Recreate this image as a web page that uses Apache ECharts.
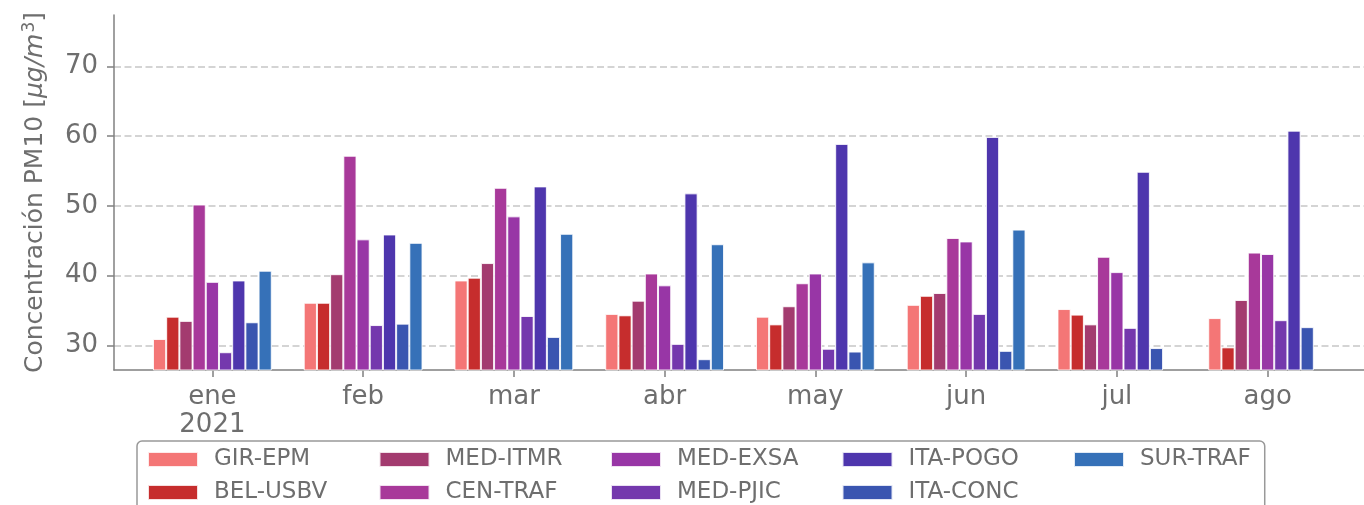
<!DOCTYPE html>
<html>
<head>
<meta charset="utf-8">
<script src="https://cdn.jsdelivr.net/npm/echarts@6/dist/echarts.min.js"></script>
<style>
  html, body { margin: 0; padding: 0; background: #fff; }
  #chart { width: 1364px; height: 505px; }
</style>
</head>
<body>
<div id="chart"></div>
<script>
const months = ["ene\n2021", "feb", "mar", "abr", "may", "jun", "jul", "ago"];
const yTicks = [30, 40, 50, 60, 70];

// one array per station, month order ene..ago (null = no data)
const girEpm  = [30.9, 36.1, 39.3, 34.5, 34.1, 35.8, 35.2, 33.9];
const belUsbv = [34.1, 36.1, 39.7, 34.3, 33.0, 37.1, 34.4, 29.7];
const medItmr = [33.5, 40.2, 41.8, 36.4, 35.6, 37.5, 33.0, 36.5];
const cenTraf = [50.2, 57.2, 52.6, 40.3, 38.9, 45.4, 42.7, 43.3];
const medExsa = [39.1, 45.2, 48.5, 38.6, 40.3, 44.9, 40.5, 43.1];
const medPjic = [29.0, 32.9, 34.2, 30.2, 29.5, 34.5, 32.5, 33.6];
const itaPogo = [39.3, 45.9, 52.8, 51.8, 58.9, 59.9, 54.9, 60.8];
const itaConc = [33.3, 33.1, 31.2, 28.0, 29.1, 29.2, 29.6, 32.6];
const surTraf = [40.7, 44.7, 46.0, 44.5, 41.9, 46.6, null, null];

const stations = [
  { name: "GIR-EPM",  data: girEpm,  color: "#f47676" },
  { name: "BEL-USBV", data: belUsbv, color: "#c62d2d" },
  { name: "MED-ITMR", data: medItmr, color: "#a33b6f" },
  { name: "CEN-TRAF", data: cenTraf, color: "#a8399a" },
  { name: "MED-EXSA", data: medExsa, color: "#9836a6" },
  { name: "MED-PJIC", data: medPjic, color: "#7438ad" },
  { name: "ITA-POGO", data: itaPogo, color: "#4e36ad" },
  { name: "ITA-CONC", data: itaConc, color: "#3a55b0" },
  { name: "SUR-TRAF", data: surTraf, color: "#3671b8" }
];

// matplotlib fills the legend column by column, echarts row by row
const legendOrder = ["GIR-EPM", "MED-ITMR", "MED-EXSA", "ITA-POGO", "SUR-TRAF",
                     "BEL-USBV", "CEN-TRAF", "MED-PJIC", "ITA-CONC"];

const yMin = 26.45, yMax = 77.4;
const grey = "#6e6e6e";
const axisGrey = "#808080";
const font = "DejaVu Sans";

const chart = echarts.init(document.getElementById("chart"));

chart.setOption({
  animation: false,
  textStyle: { fontFamily: font },
  grid: [
    { left: 114, right: 0, top: 15, bottom: 135 },
    { left: 137, right: 21, top: 15, bottom: 135 }
  ],
  legend: {
    data: legendOrder,
    icon: "rect",
    left: 137,
    top: 441,
    width: 1160,
    itemWidth: 50,
    itemHeight: 15,
    itemGap: 10,
    padding: [7, 14, 15, 10],
    borderColor: "#999",
    borderWidth: 1.5,
    borderRadius: 5,
    formatter: name => name === "SUR-TRAF" ? "{b|" + name + "}" : "{a|" + name + "}",
    textStyle: {
      color: grey,
      fontFamily: font,
      fontSize: 23,
      rich: {
        a: { width: 154.5, padding: [0, 0, 0, 11], fontSize: 23, lineHeight: 21, color: grey, fontFamily: font },
        b: { padding: [0, 0, 0, 11], fontSize: 23, lineHeight: 21, color: grey, fontFamily: font }
      }
    }
  },
  xAxis: [
    {
      gridIndex: 0, type: "value", min: 0, max: 1,
      axisLine: { show: true, lineStyle: { color: axisGrey, width: 1.5 } },
      axisTick: { show: false }, axisLabel: { show: false }, splitLine: { show: false }
    },
    {
      gridIndex: 1, type: "category", data: months,
      axisLine: { show: false },
      axisTick: { show: true, alignWithLabel: true, length: 7, lineStyle: { color: axisGrey, width: 1.5 } },
      axisLabel: { color: grey, fontSize: 26, lineHeight: 28, margin: 13 }
    }
  ],
  yAxis: [
    {
      gridIndex: 0, type: "value", min: yMin, max: yMax,
      name: "Concentración PM10 [{i|μg/m}{s|3}]",
      nameLocation: "middle",
      nameGap: 64,
      nameTextStyle: {
        color: grey, fontSize: 25, padding: [0, 0, 0, 0],
        rich: {
          i: { color: grey, fontSize: 25, fontStyle: "italic", fontFamily: font },
          s: { color: grey, fontSize: 17, padding: [0, 0, 12, 1], fontFamily: font }
        }
      },
      axisLine: { show: true, lineStyle: { color: axisGrey, width: 1.5 } },
      axisTick: { show: true, customValues: yTicks, length: 7, lineStyle: { color: axisGrey, width: 1.5 } },
      axisLabel: { customValues: yTicks, color: grey, fontSize: 26, margin: 16 },
      splitLine: { show: true, lineStyle: { color: "#c6c6c6", width: 1.5, type: [7, 3.5] } }
    },
    { gridIndex: 1, type: "value", min: yMin, max: yMax, show: false, splitLine: { show: false } }
  ],
  series: stations.map(s => ({
    name: s.name,
    type: "bar",
    xAxisIndex: 1,
    yAxisIndex: 1,
    data: s.data,
    barWidth: 13.2,
    barGap: "0%",
    itemStyle: { color: s.color, borderColor: "rgba(255,255,255,0.85)", borderWidth: 1 }
  }))
});
</script>
</body>
</html>
